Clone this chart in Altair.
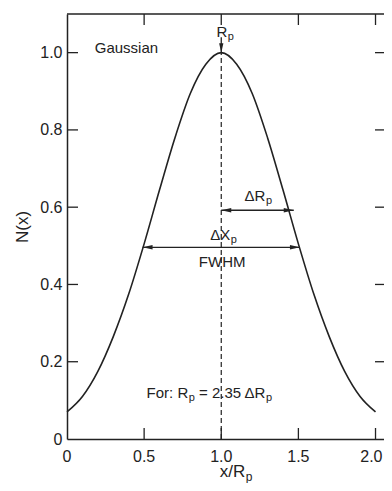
import altair as alt
import pandas as pd

# ---- data ----
x_vals = [0.0, 0.1, 0.2, 0.3, 0.4, 0.5, 0.6, 0.7, 0.8, 0.9, 1.0,
          1.1, 1.2, 1.3, 1.4, 1.5, 1.6, 1.7, 1.8, 1.9, 2.0]
n_vals = [0.07, 0.11, 0.175, 0.265, 0.375, 0.505, 0.645, 0.78, 0.895, 0.97, 1.0,
          0.97, 0.895, 0.78, 0.645, 0.505, 0.375, 0.265, 0.175, 0.11, 0.07]

x_label_vals = [0, 0.5, 1.0, 1.5]
x_label_text = ["0", "0.5", "1.0", "1.5"]
x_last_val = [2.0]
x_last_text = ["2.0"]
y_label_vals = [0, 0.2, 0.4, 0.6, 0.8, 1.0]
x_tick_vals = [0.5, 1.0, 1.5, 2.0]
y_tick_vals = [0.2, 0.4, 0.6, 0.8, 1.0]

# horizontal double arrows: y, x start, x end
harrow_y = [0.592, 0.496]
harrow_x1 = [1.0, 0.49]
harrow_x2 = [1.47, 1.51]

# Rp peak marker
peak_x = [1.0]
peak_y_top = [1.04]
peak_y = [1.0]

# text with subscript "p": main part (right aligned at anchor), subscript after
sub_main = ["R", "\u0394R", "\u0394X", "For: R", "= 2.35 \u0394R"]
sub_x = [1.039, 1.286, 1.058, 0.786, 1.286]
sub_y = [1.054, 0.63, 0.527, 0.12, 0.12]
sub_text = ["p", "p", "p", "p", "p"]

left_text = ["Gaussian"]
left_x = [0.18]
left_y = [1.013]

center_text = ["FWHM"]
center_x = [1.006]
center_y = [0.457]

W, H = 317, 425
FONT = "Liberation Sans"
INK = "#222222"

curve_df = pd.DataFrame({"x": x_vals, "n": n_vals})
xs = alt.Scale(domain=[0, 2.055], nice=False, zero=False)
ys = alt.Scale(domain=[0, 1.1], nice=False, zero=False)

y_lab_expr = "datum.value == 0 ? '0' : format(datum.value, '.1f')"

AX_X = alt.Axis(
    values=x_tick_vals, labels=False, ticks=False, tickSize=0,
    domain=True, domainColor=INK, domainWidth=1.5, grid=False, title=None)
AX_Y = alt.Axis(
    values=y_label_vals, labelExpr=y_lab_expr, ticks=False, tickSize=0,
    domain=True, domainColor=INK, domainWidth=1.5, grid=False,
    title="N(x)", titleFontSize=17,
    titleFontWeight="normal", titleFont=FONT, titleColor=INK,
    titlePadding=8, labelFontSize=16, labelPadding=5,
    labelOverlap=False, labelFont=FONT, labelColor=INK)


def X(f):
    return alt.X(f, type="quantitative", scale=xs, axis=AX_X)


def Y(f):
    return alt.Y(f, type="quantitative", scale=ys, axis=AX_Y)


curve = alt.Chart(curve_df).mark_line(
    color=INK, strokeWidth=1.6, interpolate="monotone"
).encode(x=X("x"), y=Y("n"))

dash_df = pd.DataFrame({"x": peak_x, "y0": [0.0], "y1": peak_y})
dashed = alt.Chart(dash_df).mark_rule(
    color=INK, strokeWidth=1.2, strokeDash=[5, 3]
).encode(x=X("x"), y=Y("y0"), y2="y1:Q")

ha_df = pd.DataFrame({"y": harrow_y, "x1": harrow_x1, "x2": harrow_x2})
ha_rule = alt.Chart(ha_df).mark_rule(color=INK, strokeWidth=1.3).encode(
    x=X("x1"), x2="x2:Q", y=Y("y"))
LEFT_HEAD = "M0,0L2,-0.45L2,0.45Z"
RIGHT_HEAD = "M0,0L-2,-0.45L-2,0.45Z"
DOWN_HEAD = "M0,0L-0.45,-2L0.45,-2Z"
ha_left = alt.Chart(ha_df).mark_point(
    shape=LEFT_HEAD, filled=True, color=INK, size=100, opacity=1
).encode(x=X("x1"), y=Y("y"))
ha_right = alt.Chart(ha_df).mark_point(
    shape=RIGHT_HEAD, filled=True, color=INK, size=100, opacity=1
).encode(x=X("x2"), y=Y("y"))

pk_df = pd.DataFrame({"x": peak_x, "yt": peak_y_top, "y": peak_y})
pk_rule = alt.Chart(pk_df).mark_rule(color=INK, strokeWidth=1.3).encode(
    x=X("x"), y=Y("yt"), y2="y:Q")
pk_head = alt.Chart(pk_df).mark_point(
    shape=DOWN_HEAD, filled=True, color=INK, size=90, opacity=1
).encode(x=X("x"), y=Y("y"))

sub_df = pd.DataFrame({"x": sub_x, "y": sub_y, "main": sub_main, "sub": sub_text})
main_txt = alt.Chart(sub_df).mark_text(
    align="right", baseline="middle", font=FONT, fontSize=15, color=INK
).encode(x=X("x"), y=Y("y"), text="main:N")
sub_txt = alt.Chart(sub_df).mark_text(
    align="left", baseline="middle", font=FONT, fontSize=11, color=INK, dx=0.5, dy=5
).encode(x=X("x"), y=Y("y"), text="sub:N")

left_df = pd.DataFrame({"x": left_x, "y": left_y, "t": left_text})
left_txt = alt.Chart(left_df).mark_text(
    align="left", baseline="middle", font=FONT, fontSize=15, color=INK
).encode(x=X("x"), y=Y("y"), text="t:N")

center_df = pd.DataFrame({"x": center_x, "y": center_y, "t": center_text})
center_txt = alt.Chart(center_df).mark_text(
    align="center", baseline="middle", font=FONT, fontSize=15, color=INK
).encode(x=X("x"), y=Y("y"), text="t:N")

# x tick labels (the last one kept inside the visible area)
xl_df = pd.DataFrame({"x": x_label_vals, "t": x_label_text})
xl_txt = alt.Chart(xl_df).mark_text(
    align="center", baseline="middle", font=FONT, fontSize=16, color=INK
).encode(x=X("x"), y=alt.value(H + 18), text="t:N")
xl_last_df = pd.DataFrame({"x": x_last_val, "t": x_last_text})
xl_last = alt.Chart(xl_last_df).mark_text(
    align="right", baseline="middle", font=FONT, fontSize=16, color=INK, dx=7
).encode(x=X("x"), y=alt.value(H + 18), text="t:N")

# x-axis title with subscript
xt_df = pd.DataFrame({"x": [1.156], "main": ["x/R"], "sub": ["p"]})
xt_main = alt.Chart(xt_df).mark_text(
    align="right", baseline="middle", font=FONT, fontSize=17, color=INK
).encode(x=X("x"), y=alt.value(H + 33), text="main:N")
xt_sub = alt.Chart(xt_df).mark_text(
    align="left", baseline="middle", font=FONT, fontSize=12, color=INK, dx=0.5, dy=5
).encode(x=X("x"), y=alt.value(H + 33), text="sub:N")

# top frame line (right side of the frame lies beyond the visible area)
top_line = alt.Chart(pd.DataFrame({"k": [0]})).mark_rule(
    color=INK, strokeWidth=1.5
).encode(x=alt.value(0), x2=alt.value(W), y=alt.value(0))

# inward ticks on all four sides
xtick_df = pd.DataFrame({"v": x_tick_vals})
ytick_df = pd.DataFrame({"v": y_tick_vals})
TL = 11
t_bottom = alt.Chart(xtick_df).mark_rule(color=INK, strokeWidth=1.3).encode(
    x=X("v"), y=alt.value(H), y2=alt.value(H - TL))
t_top = alt.Chart(xtick_df).mark_rule(color=INK, strokeWidth=1.3).encode(
    x=X("v"), y=alt.value(0), y2=alt.value(TL))
t_left = alt.Chart(ytick_df).mark_rule(color=INK, strokeWidth=1.3).encode(
    y=Y("v"), x=alt.value(0), x2=alt.value(TL))
t_right = alt.Chart(ytick_df).mark_rule(color=INK, strokeWidth=1.3).encode(
    y=Y("v"), x=alt.value(W), x2=alt.value(W - TL + 2))

chart = alt.layer(
    curve, dashed, ha_rule, ha_left, ha_right, pk_rule, pk_head,
    main_txt, sub_txt, left_txt, center_txt, xl_txt, xl_last, xt_main, xt_sub,
    top_line, t_bottom, t_top, t_left, t_right,
).properties(
    width=W, height=H,
    autosize=alt.AutoSizeParams(type="none"),
    padding={"left": 59, "top": 6, "right": 0, "bottom": 44},
    background="white",
).configure_view(
    stroke=None
)

chart.save("out.html", embed_options={"renderer": "svg", "actions": False})
